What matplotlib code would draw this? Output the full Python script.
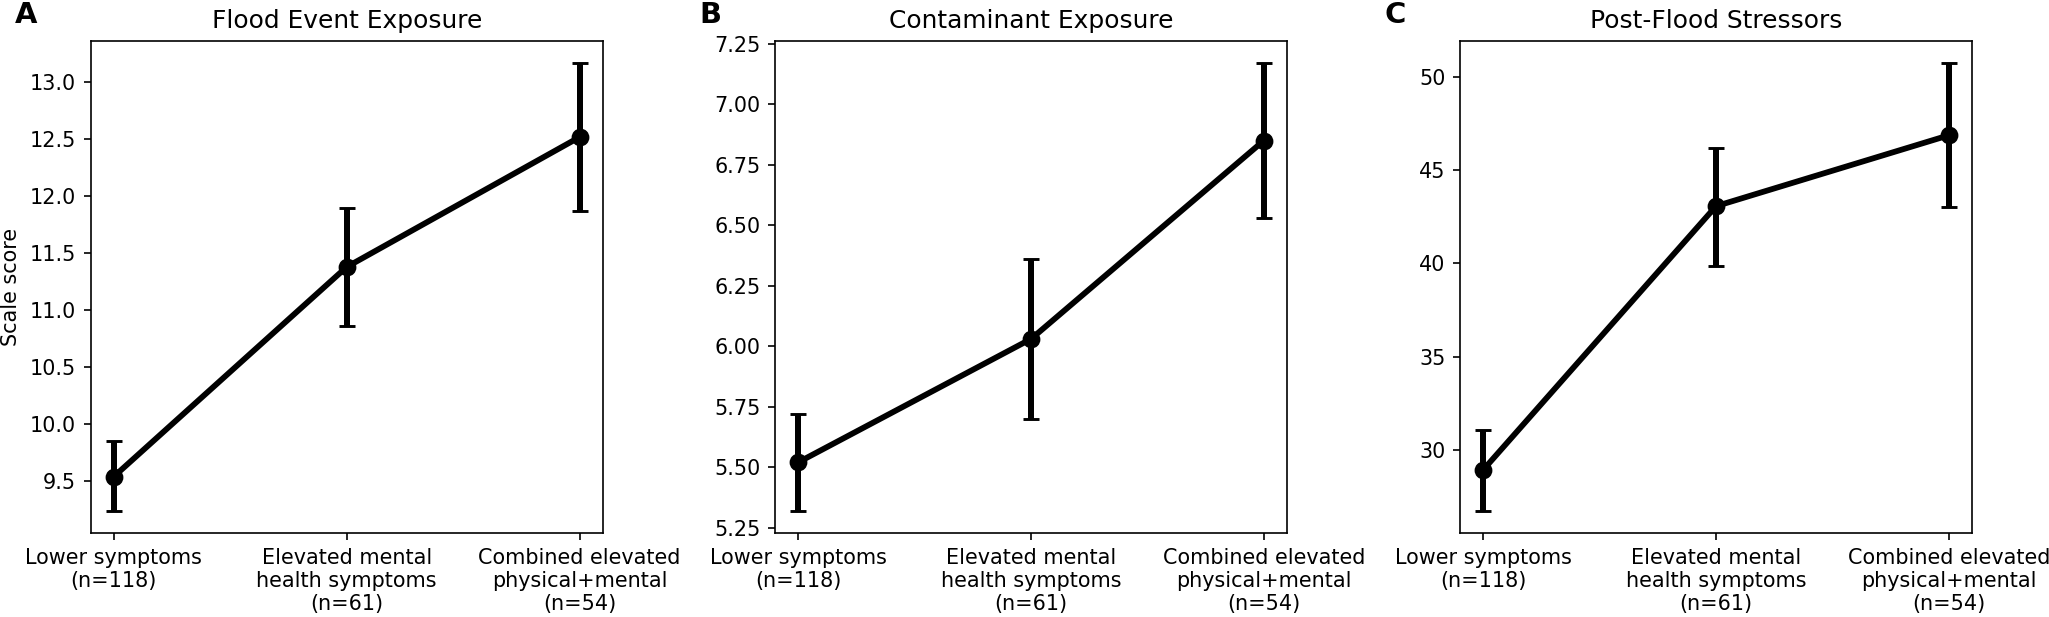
import numpy as np
import matplotlib
matplotlib.use("Agg")
import matplotlib.pyplot as plt

groups = ["Lower symptoms\n(n=118)",
          "Elevated mental\nhealth symptoms\n(n=61)",
          "Combined elevated\nphysical+mental\n(n=54)"]

titles = ["Flood Event Exposure", "Contaminant Exposure", "Post-Flood Stressors"]
letters = ["A", "B", "C"]

# means and confidence interval bounds
flood_mean = [9.54, 11.38, 12.52]
flood_lo = [9.24, 10.86, 11.87]
flood_hi = [9.85, 11.90, 13.17]

contam_mean = [5.52, 6.03, 6.85]
contam_lo = [5.32, 5.70, 6.53]
contam_hi = [5.72, 6.36, 7.17]

stress_mean = [28.93, 43.07, 46.87]
stress_lo = [26.74, 39.85, 43.00]
stress_hi = [31.09, 46.20, 50.74]

panels = [(flood_mean, flood_lo, flood_hi),
          (contam_mean, contam_lo, contam_hi),
          (stress_mean, stress_lo, stress_hi)]

fig = plt.figure(figsize=(2049 / 149, 617 / 149), dpi=149)
lefts = [0.0442, 0.3782, 0.7125]
width = 0.250
bottom, top = 0.136, 0.934

x = np.arange(len(groups))
for i, (m, lo, hi) in enumerate(panels):
    ax = fig.add_axes([lefts[i], bottom, width, top - bottom])
    m = np.array(m)
    yerr = [m - np.array(lo), np.array(hi) - m]
    ax.errorbar(x, m, yerr=yerr, color='black', lw=2.8, elinewidth=2.9,
                capsize=4.1, capthick=1.4, marker='o', markersize=7.6)
    ax.set_xticks(x)
    ax.set_xticklabels(groups)
    ax.set_xlim(-0.1, 2.1)
    ax.set_title(titles[i], fontsize=12)
    if i == 0:
        ax.set_ylabel("Scale score")
    fig.text(lefts[i] - 0.037, 0.976, letters[i], fontsize=14, fontweight='bold',
             va='center', ha='left')

fig.savefig("out.png", dpi=149)
